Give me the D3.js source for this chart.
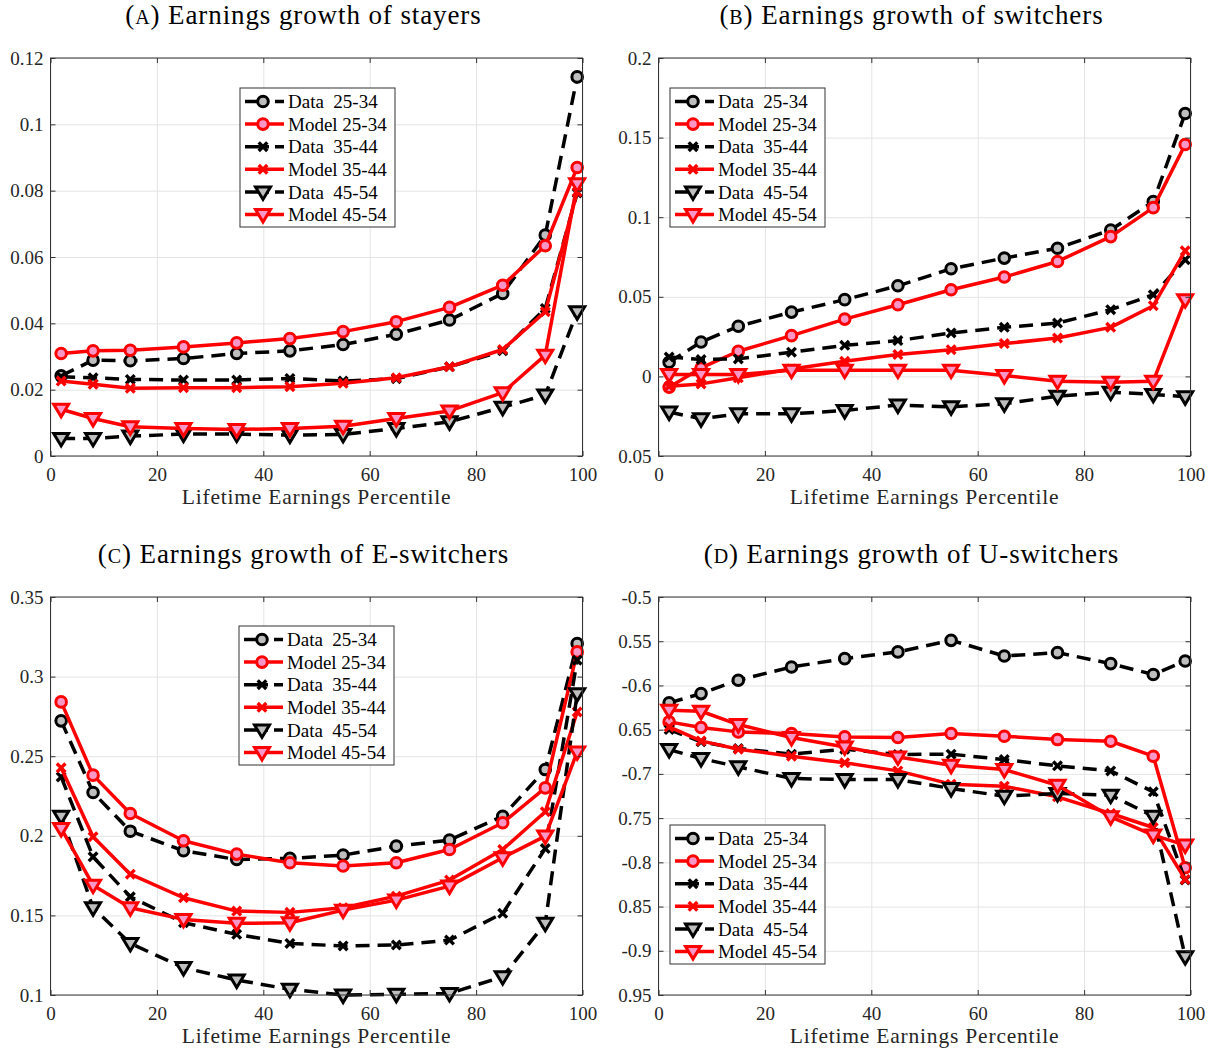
<!DOCTYPE html>
<html>
<head>
<meta charset="utf-8">
<script src="https://cdn.jsdelivr.net/npm/d3@7"></script>
<style>
body { margin: 0; background: #fff; }
svg { display: block; font-family: "Liberation Serif", "Times New Roman", serif; }
.grid line { stroke: #e4e4e4; stroke-width: 1; }
.grid path { display: none; }
.tk path { display: none; }
.tk line { stroke: #333; }
.tk text { font-size: 19px; fill: #262626; font-family: "Liberation Serif", serif; }
</style>
</head>
<body>
<div id="chart"></div>
<script>
// x positions (lifetime earnings percentile)
const pct = [2, 8, 15, 25, 35, 45, 55, 65, 75, 85, 93, 99];
const legendNames = ["Data  25-34", "Model 25-34", "Data  35-44", "Model 35-44", "Data  45-54", "Model 45-54"];
const xTicks = [0, 20, 40, 60, 80, 100];

// (A) stayers
const stayData2534  = [0.0242, 0.0289, 0.0287, 0.0294, 0.0309, 0.0317, 0.0336, 0.0367, 0.0410, 0.0490, 0.0666, 0.1143];
const stayModel2534 = [0.0309, 0.0317, 0.0319, 0.0329, 0.0341, 0.0354, 0.0375, 0.0405, 0.0448, 0.0515, 0.0634, 0.0870];
const stayData3544  = [0.0239, 0.0236, 0.0231, 0.0229, 0.0229, 0.0234, 0.0226, 0.0233, 0.0269, 0.0317, 0.0445, 0.0793];
const stayModel3544 = [0.0226, 0.0216, 0.0204, 0.0206, 0.0206, 0.0209, 0.0219, 0.0236, 0.0269, 0.0321, 0.0435, 0.0796];
const stayData4554  = [0.0053, 0.0053, 0.0060, 0.0066, 0.0066, 0.0063, 0.0065, 0.0083, 0.0103, 0.0147, 0.0184, 0.0435];
const stayModel4554 = [0.0141, 0.0113, 0.0088, 0.0083, 0.0080, 0.0083, 0.0090, 0.0113, 0.0136, 0.0191, 0.0304, 0.0821];
const stayYTicks = [0, 0.02, 0.04, 0.06, 0.08, 0.1, 0.12];
const stayYLabels = ["0", "0.02", "0.04", "0.06", "0.08", "0.1", "0.12"];

// (B) switchers
const swData2534  = [0.0089, 0.0216, 0.0315, 0.0404, 0.0482, 0.0569, 0.0676, 0.0743, 0.0805, 0.0920, 0.1098, 0.1651];
const swModel2534 = [-0.0068, 0.0053, 0.0158, 0.0256, 0.0360, 0.0450, 0.0544, 0.0624, 0.0722, 0.0878, 0.1060, 0.1457];
const swData3544  = [0.0122, 0.0106, 0.0110, 0.0152, 0.0195, 0.0225, 0.0273, 0.0308, 0.0335, 0.0419, 0.0513, 0.0732];
const swModel3544 = [-0.0062, -0.0047, -0.0009, 0.0047, 0.0095, 0.0137, 0.0168, 0.0206, 0.0241, 0.0308, 0.0444, 0.0789];
const swData4554  = [-0.0224, -0.0266, -0.0235, -0.0235, -0.0214, -0.0180, -0.0191, -0.0172, -0.0124, -0.0099, -0.0113, -0.0128];
const swModel4554 = [0.0012, 0.0012, 0.0012, 0.0039, 0.0039, 0.0039, 0.0039, 0.0005, -0.0030, -0.0036, -0.0030, 0.0482];
const swYTicks = [-0.05, 0, 0.05, 0.1, 0.15, 0.2];
const swYLabels = ["0.05", "0", "0.05", "0.1", "0.15", "0.2"];

// (C) E-switchers
const eData2534  = [0.2722, 0.2272, 0.2029, 0.1906, 0.1851, 0.1858, 0.1879, 0.1935, 0.1973, 0.2123, 0.2416, 0.3207];
const eModel2534 = [0.2841, 0.2381, 0.2140, 0.1969, 0.1885, 0.1831, 0.1810, 0.1831, 0.1914, 0.2082, 0.2301, 0.3155];
const eData3544  = [0.2370, 0.1868, 0.1617, 0.1454, 0.1381, 0.1324, 0.1308, 0.1314, 0.1345, 0.1513, 0.1920, 0.3103];
const eModel3544 = [0.2427, 0.1994, 0.1759, 0.1611, 0.1527, 0.1519, 0.1548, 0.1621, 0.1722, 0.1914, 0.2151, 0.2778];
const eData4554  = [0.2123, 0.1548, 0.1324, 0.1172, 0.1094, 0.1036, 0.1000, 0.1004, 0.1010, 0.1115, 0.1450, 0.2893];
const eModel4554 = [0.2046, 0.1690, 0.1548, 0.1475, 0.1450, 0.1454, 0.1533, 0.1596, 0.1684, 0.1862, 0.1998, 0.2527];
const eYTicks = [0.1, 0.15, 0.2, 0.25, 0.3, 0.35];
const eYLabels = ["0.1", "0.15", "0.2", "0.25", "0.3", "0.35"];

// (D) U-switchers
const uData2534  = [-0.6197, -0.6092, -0.5941, -0.5791, -0.5697, -0.5621, -0.5490, -0.5667, -0.5629, -0.5753, -0.5877, -0.5723];
const uModel2534 = [-0.6412, -0.6476, -0.6525, -0.6544, -0.6582, -0.6589, -0.6544, -0.6574, -0.6612, -0.6631, -0.6800, -0.8061];
const uData3544  = [-0.6499, -0.6638, -0.6713, -0.6777, -0.6721, -0.6781, -0.6777, -0.6838, -0.6909, -0.6966, -0.7203, -0.8201];
const uModel3544 = [-0.6469, -0.6627, -0.6721, -0.6800, -0.6875, -0.6966, -0.7116, -0.7139, -0.7259, -0.7448, -0.7606, -0.8193];
const uData4554  = [-0.6725, -0.6826, -0.6920, -0.7052, -0.7064, -0.7064, -0.7165, -0.7252, -0.7222, -0.7241, -0.7478, -0.9067];
const uModel4554 = [-0.6280, -0.6292, -0.6442, -0.6589, -0.6695, -0.6808, -0.6902, -0.6951, -0.7128, -0.7485, -0.7692, -0.7805];
const uYTicks = [-0.95, -0.9, -0.85, -0.8, -0.75, -0.7, -0.65, -0.6, -0.55, -0.5];
const uYLabels = ["0.95", "-0.9", "0.85", "-0.8", "0.75", "-0.7", "0.65", "-0.6", "0.55", "-0.5"];

const W = 1217, H = 1052;
const svg = d3.select("#chart").append("svg").attr("width", W).attr("height", H);

// line / marker style for the 6 series (data black dashed, model red solid)
const styles = [
  {color: "#000", dash: "14,8", marker: "o", fill: "#bebebe"},
  {color: "#ff0000", dash: null, marker: "o", fill: "#fb96c6"},
  {color: "#000", dash: "14,8", marker: "x"},
  {color: "#ff0000", dash: null, marker: "x"},
  {color: "#000", dash: "14,8", marker: "v", fill: "#bebebe"},
  {color: "#ff0000", dash: null, marker: "v", fill: "#fb96c6"}
];

function drawMarker(sel, st, cx, cy) {
  if (st.marker == "o") {
    sel.append("circle").attr("cx", cx).attr("cy", cy).attr("r", 5.3)
      .attr("fill", st.fill).attr("stroke", st.color).attr("stroke-width", 3);
  } else if (st.marker == "v") {
    sel.append("path")
      .attr("d", `M${cx-7.5},${cy-5}L${cx+7.5},${cy-5}L${cx},${cy+7.5}Z`)
      .attr("fill", st.fill).attr("stroke", st.color).attr("stroke-width", 3)
      .attr("stroke-linejoin", "miter");
  } else {
    const s = 4.3;
    sel.append("path")
      .attr("d", `M${cx-s},${cy-s}L${cx+s},${cy+s}M${cx-s},${cy+s}L${cx+s},${cy-s}`)
      .attr("stroke", st.color).attr("stroke-width", 3.4).attr("fill", "none");
  }
}

function drawPanel(p) {
  const g = svg.append("g");
  const x = d3.scaleLinear().domain([0, 100]).range([p.x0, p.x1]);
  const y = d3.scaleLinear().domain([p.yTicks[0], p.yTicks[p.yTicks.length - 1]]).range([p.y1, p.y0]);

  // grid
  g.append("g").attr("class", "grid").attr("transform", `translate(0,${p.y1})`)
    .call(d3.axisBottom(x).tickValues(xTicks).tickSize(-(p.y1 - p.y0)).tickFormat(""));
  g.append("g").attr("class", "grid").attr("transform", `translate(${p.x0},0)`)
    .call(d3.axisLeft(y).tickValues(p.yTicks).tickSize(-(p.x1 - p.x0)).tickFormat(""));

  const line = d3.line().x((d, i) => x(pct[i])).y(d => y(d));

  p.series.forEach((vals, k) => {
    const st = styles[k];
    g.append("path").datum(vals).attr("d", line)
      .attr("fill", "none").attr("stroke", st.color).attr("stroke-width", 3.5)
      .attr("stroke-dasharray", st.dash).attr("stroke-linejoin", "round");
    const mg = g.append("g");
    vals.forEach((v, i) => drawMarker(mg, st, x(pct[i]), y(v)));
  });

  // box + inward ticks
  g.append("rect").attr("x", p.x0).attr("y", p.y0).attr("width", p.x1 - p.x0).attr("height", p.y1 - p.y0)
    .attr("fill", "none").attr("stroke", "#333").attr("stroke-width", 1);
  g.append("g").attr("class", "tk").attr("transform", `translate(0,${p.y1})`)
    .call(d3.axisBottom(x).tickValues(xTicks).tickSize(-5).tickSizeOuter(0).tickPadding(12));
  g.append("g").attr("class", "tk").attr("transform", `translate(0,${p.y0})`)
    .call(d3.axisTop(x).tickValues(xTicks).tickSize(-5).tickSizeOuter(0).tickFormat(""));
  g.append("g").attr("class", "tk").attr("transform", `translate(${p.x0},0)`)
    .call(d3.axisLeft(y).tickValues(p.yTicks).tickSize(-5).tickSizeOuter(0).tickPadding(7)
      .tickFormat((d, i) => p.yLabels[i]));
  g.append("g").attr("class", "tk").attr("transform", `translate(${p.x1},0)`)
    .call(d3.axisRight(y).tickValues(p.yTicks).tickSize(-5).tickSizeOuter(0).tickFormat(""));

  // x label
  g.append("text").attr("x", (p.x0 + p.x1) / 2).attr("y", p.y1 + 48)
    .attr("text-anchor", "middle").attr("font-size", 21.5).attr("letter-spacing", 0.8)
    .attr("fill", "#262626").text("Lifetime Earnings Percentile");

  // title
  const t = g.append("text").attr("x", (p.x0 + p.x1) / 2 - 13).attr("y", p.y0 - 34)
    .attr("text-anchor", "middle").attr("font-size", 27).attr("letter-spacing", 0.9).attr("fill", "#000");
  t.append("tspan").text("(");
  t.append("tspan").attr("font-size", 20).text(p.letter);
  t.append("tspan").text(") " + p.title);

  // legend
  const lg = g.append("g").attr("transform", `translate(${p.lx},${p.ly})`);
  lg.append("rect").attr("width", 155).attr("height", 139)
    .attr("fill", "#fff").attr("stroke", "#333").attr("stroke-width", 1);
  legendNames.forEach((name, k) => {
    const st = styles[k];
    const ry = 13.5 + k * 22.6;
    lg.append("line").attr("x1", 5).attr("x2", 44).attr("y1", ry).attr("y2", ry)
      .attr("stroke", st.color).attr("stroke-width", 3.5).attr("stroke-dasharray", st.dash ? "24,6,20" : null);
    drawMarker(lg, st, 23, ry);
    lg.append("text").attr("x", 48).attr("y", ry).attr("dy", "0.35em")
      .attr("font-size", 19).attr("fill", "#000").style("white-space", "pre").text(name);
  });
}

drawPanel({x0: 50.5, x1: 582.5, y0: 58, y1: 456, letter: "A", title: "Earnings growth of stayers",
  yTicks: stayYTicks, yLabels: stayYLabels, lx: 240, ly: 88,
  series: [stayData2534, stayModel2534, stayData3544, stayModel3544, stayData4554, stayModel4554]});
drawPanel({x0: 658.5, x1: 1190.5, y0: 58, y1: 456, letter: "B", title: "Earnings growth of switchers",
  yTicks: swYTicks, yLabels: swYLabels, lx: 670, ly: 88,
  series: [swData2534, swModel2534, swData3544, swModel3544, swData4554, swModel4554]});
drawPanel({x0: 50.5, x1: 582.5, y0: 597, y1: 995, letter: "C", title: "Earnings growth of E-switchers",
  yTicks: eYTicks, yLabels: eYLabels, lx: 239, ly: 626,
  series: [eData2534, eModel2534, eData3544, eModel3544, eData4554, eModel4554]});
drawPanel({x0: 658.5, x1: 1190.5, y0: 597, y1: 995, letter: "D", title: "Earnings growth of U-switchers",
  yTicks: uYTicks, yLabels: uYLabels, lx: 670, ly: 825,
  series: [uData2534, uModel2534, uData3544, uModel3544, uData4554, uModel4554]});
</script>
</body>
</html>
